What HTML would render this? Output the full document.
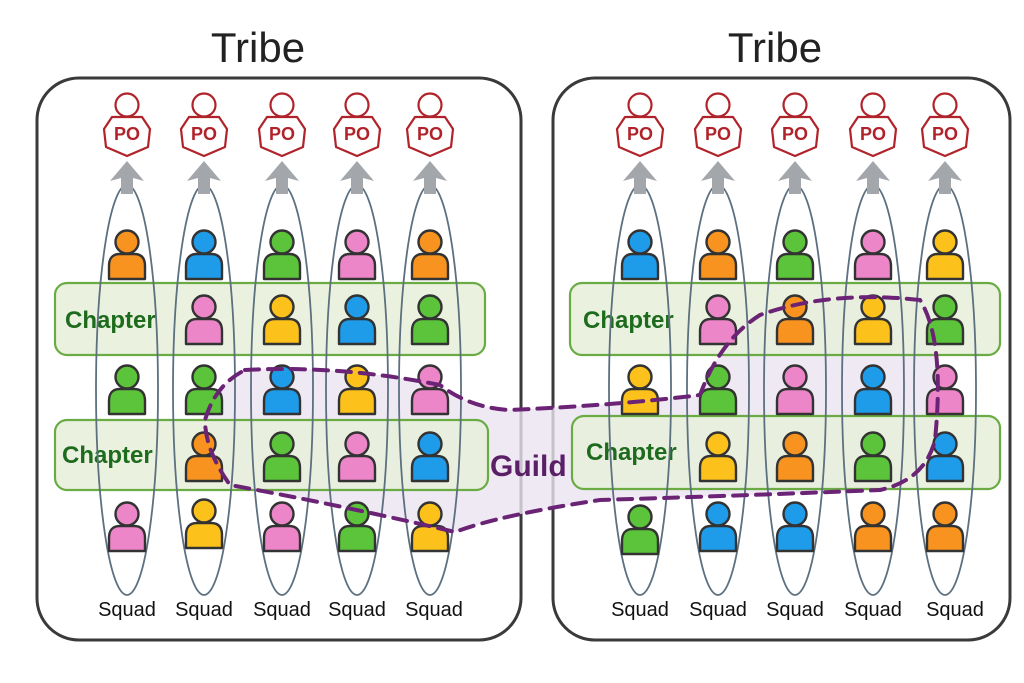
<!DOCTYPE html>
<html><head><meta charset="utf-8"><style>
html,body{margin:0;padding:0;background:#fff}
svg{display:block}
text{font-family:"Liberation Sans",sans-serif}
</style></head><body>
<svg width="1024" height="683" viewBox="0 0 1024 683" xmlns="http://www.w3.org/2000/svg">
<defs>
<g id="p">
<circle cx="0" cy="-16" r="11.5" stroke="#333" stroke-width="2.4"/>
<path d="M-18,21 L-18,8 Q-18,-4 -7,-4 L7,-4 Q18,-4 18,8 L18,21 Z" stroke="#333" stroke-width="2.4" stroke-linejoin="round"/>
</g>
<g id="po" fill="none" stroke="#b0232a" stroke-width="2.2">
<circle cx="0" cy="-25" r="11.5"/>
<path d="M-15,-13 L15,-13 L23,-1 L21,17 L0,26 L-21,17 L-23,-1 Z" stroke-linejoin="round"/>
</g>
<g id="ar" fill="#a3a7ab">
<path d="M0,-17 L17,3 L6,0 L6,16 L-6,16 L-6,0 L-17,3 Z"/>
</g>
</defs>
<rect width="1024" height="683" fill="#fff"/>
<rect x="37" y="78" width="484" height="562" rx="42" fill="none" stroke="#3a3a3a" stroke-width="3"/>
<rect x="553" y="78" width="457" height="562" rx="42" fill="none" stroke="#3a3a3a" stroke-width="3"/>
<text x="258" y="62" font-size="42" text-anchor="middle" fill="#222">Tribe</text>
<text x="775" y="62" font-size="42" text-anchor="middle" fill="#222">Tribe</text>
<path d="M245,370 Q340,365 440,385 Q470,408 510,410 Q620,405 700,395 Q720,340 760,315 Q830,290 920,300 Q945,340 935,440 Q925,480 880,490 Q760,495 600,500 Q500,515 455,532 Q340,505 230,485 Q205,450 205,420 Q215,385 245,370 Z" fill="#ebe4f1" opacity="0.8"/>
<g fill="#e6f0d9" fill-opacity="0.85" stroke="#6aab44" stroke-width="2.2">
<rect x="55" y="283" width="430" height="72" rx="12"/>
<rect x="55" y="420" width="433" height="70" rx="12"/>
<rect x="570" y="283" width="430" height="72" rx="12"/>
<rect x="572" y="416" width="428" height="73" rx="12"/>
</g>
<g font-size="24" fill="#1e6b1e" font-weight="bold">
<text x="65" y="328">Chapter</text>
<text x="62" y="463">Chapter</text>
<text x="583" y="328">Chapter</text>
<text x="586" y="460">Chapter</text>
</g>
<g fill="none" stroke="#5c7080" stroke-width="1.8">
<ellipse cx="127" cy="390" rx="31" ry="205"/>
<ellipse cx="204" cy="390" rx="31" ry="205"/>
<ellipse cx="282" cy="390" rx="31" ry="205"/>
<ellipse cx="357" cy="390" rx="31" ry="205"/>
<ellipse cx="430" cy="390" rx="31" ry="205"/>
<ellipse cx="640" cy="390" rx="31" ry="205"/>
<ellipse cx="718" cy="390" rx="31" ry="205"/>
<ellipse cx="795" cy="390" rx="31" ry="205"/>
<ellipse cx="873" cy="390" rx="31" ry="205"/>
<ellipse cx="945" cy="390" rx="31" ry="205"/>
</g>
<use href="#ar" x="127" y="178"/><use href="#ar" x="204" y="178"/><use href="#ar" x="282" y="178"/><use href="#ar" x="357" y="178"/><use href="#ar" x="430" y="178"/>
<use href="#ar" x="640" y="178"/><use href="#ar" x="718" y="178"/><use href="#ar" x="795" y="178"/><use href="#ar" x="873" y="178"/><use href="#ar" x="945" y="178"/>
<use href="#po" x="127" y="130"/><use href="#po" x="204" y="130"/><use href="#po" x="282" y="130"/><use href="#po" x="357" y="130"/><use href="#po" x="430" y="130"/>
<use href="#po" x="640" y="130"/><use href="#po" x="718" y="130"/><use href="#po" x="795" y="130"/><use href="#po" x="873" y="130"/><use href="#po" x="945" y="130"/>
<g font-size="18" fill="#b0232a" text-anchor="middle" font-weight="bold">
<text x="127" y="140">PO</text><text x="204" y="140">PO</text><text x="282" y="140">PO</text><text x="357" y="140">PO</text><text x="430" y="140">PO</text>
<text x="640" y="140">PO</text><text x="718" y="140">PO</text><text x="795" y="140">PO</text><text x="873" y="140">PO</text><text x="945" y="140">PO</text>
</g>
<g>
<use href="#p" x="127" y="258" fill="#f7931e"/><use href="#p" x="204" y="258" fill="#1e9be9"/><use href="#p" x="282" y="258" fill="#5cc43a"/><use href="#p" x="357" y="258" fill="#ec86c8"/><use href="#p" x="430" y="258" fill="#f7931e"/>
<use href="#p" x="204" y="323" fill="#ec86c8"/><use href="#p" x="282" y="323" fill="#fcc21b"/><use href="#p" x="357" y="323" fill="#1e9be9"/><use href="#p" x="430" y="323" fill="#5cc43a"/>
<use href="#p" x="127" y="393" fill="#5cc43a"/><use href="#p" x="204" y="393" fill="#5cc43a"/><use href="#p" x="282" y="393" fill="#1e9be9"/><use href="#p" x="357" y="393" fill="#fcc21b"/><use href="#p" x="430" y="393" fill="#ec86c8"/>
<use href="#p" x="204" y="460" fill="#f7931e"/><use href="#p" x="282" y="460" fill="#5cc43a"/><use href="#p" x="357" y="460" fill="#ec86c8"/><use href="#p" x="430" y="460" fill="#1e9be9"/>
<use href="#p" x="127" y="530" fill="#ec86c8"/><use href="#p" x="204" y="527" fill="#fcc21b"/><use href="#p" x="282" y="530" fill="#ec86c8"/><use href="#p" x="357" y="530" fill="#5cc43a"/><use href="#p" x="430" y="530" fill="#fcc21b"/>
<use href="#p" x="640" y="258" fill="#1e9be9"/><use href="#p" x="718" y="258" fill="#f7931e"/><use href="#p" x="795" y="258" fill="#5cc43a"/><use href="#p" x="873" y="258" fill="#ec86c8"/><use href="#p" x="945" y="258" fill="#fcc21b"/>
<use href="#p" x="718" y="323" fill="#ec86c8"/><use href="#p" x="795" y="323" fill="#f7931e"/><use href="#p" x="873" y="323" fill="#fcc21b"/><use href="#p" x="945" y="323" fill="#5cc43a"/>
<use href="#p" x="640" y="393" fill="#fcc21b"/><use href="#p" x="718" y="393" fill="#5cc43a"/><use href="#p" x="795" y="393" fill="#ec86c8"/><use href="#p" x="873" y="393" fill="#1e9be9"/><use href="#p" x="945" y="393" fill="#ec86c8"/>
<use href="#p" x="718" y="460" fill="#fcc21b"/><use href="#p" x="795" y="460" fill="#f7931e"/><use href="#p" x="873" y="460" fill="#5cc43a"/><use href="#p" x="945" y="460" fill="#1e9be9"/>
<use href="#p" x="640" y="533" fill="#5cc43a"/><use href="#p" x="718" y="530" fill="#1e9be9"/><use href="#p" x="795" y="530" fill="#1e9be9"/><use href="#p" x="873" y="530" fill="#f7931e"/><use href="#p" x="945" y="530" fill="#f7931e"/>
</g>
<path d="M245,370 Q340,365 440,385 Q470,408 510,410 Q620,405 700,395 Q720,340 760,315 Q830,290 920,300 Q945,340 935,440 Q925,480 880,490 Q760,495 600,500 Q500,515 455,532 Q340,505 230,485 Q205,450 205,420 Q215,385 245,370 Z" fill="none" stroke="#6b2475" stroke-width="4" stroke-dasharray="14,9" stroke-linecap="round"/>
<text x="490" y="476" font-size="30" fill="#5a1f66" font-weight="bold">Guild</text>
<g font-size="20" fill="#111" text-anchor="middle">
<text x="127" y="616">Squad</text><text x="204" y="616">Squad</text><text x="282" y="616">Squad</text><text x="357" y="616">Squad</text><text x="434" y="616">Squad</text>
<text x="640" y="616">Squad</text><text x="718" y="616">Squad</text><text x="795" y="616">Squad</text><text x="873" y="616">Squad</text><text x="955" y="616">Squad</text>
</g>
</svg>
</body></html>
